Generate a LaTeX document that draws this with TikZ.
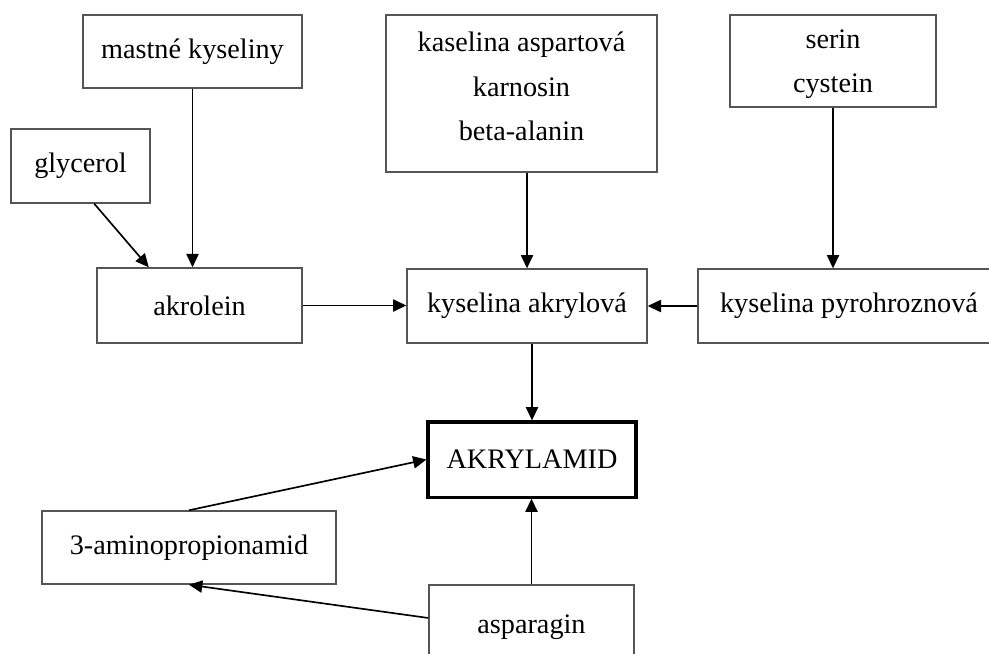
\documentclass[tikz,border=0pt]{standalone}
\usepackage{fontspec}
\setmainfont{Liberation Serif}
\usepackage{tikz}
\usepackage{xcolor}
\usetikzlibrary{arrows.meta, positioning}
\definecolor{colBorder}{RGB}{85,85,85}

\begin{document}
\begin{tikzpicture}[
  x=0.45pt, y=-0.45pt,
  arr/.style={-{Triangle[length=6pt, width=5.5pt]}, line width=0.75pt},
  box/.style={draw=colBorder, line width=0.6pt, fill=white, align=center,
              font=\fontsize{12.7}{20}\selectfont, inner sep=2pt},
  mainbox/.style={box, draw=black, line width=1.4pt},
]
% Frame of the picture
\useasboundingbox (0,0) rectangle (989,653);

% Upper row: sources
\node[box, minimum width=98.6pt, minimum height=32.9pt] (mastne) at (192.5, 51.5) {mastné kyseliny};
\node[box, minimum width=62.6pt, minimum height=33.3pt] (glycerol) at (80.5, 166) {glycerol};
\node[box, minimum width=122pt, minimum height=70.7pt, text depth=6.5pt] (kaselina) at (521.5, 93.5)
  {kaselina aspartová\\karnosin\\beta-alanin};
\node[box, minimum width=92.7pt, minimum height=41.4pt, text depth=0pt] (serin) at (833, 61) {serin\\cystein};

% Middle row
\node[box, minimum width=92.3pt, minimum height=33.8pt] (akrolein) at (199.5, 305.5) {akrolein};
\node[box, minimum width=108pt, minimum height=33.3pt] (akrylova) at (527, 306) {kyselina akrylová};
\node[box, minimum width=135.9pt, minimum height=33.3pt] (pyro) at (849, 306) {kyselina pyrohroznová};

% Lower part
\node[mainbox, minimum width=93.6pt, minimum height=33.8pt] (akrylamid) at (532, 459.5) {AKRYLAMID};
\node[box, minimum width=132.3pt, minimum height=32.9pt] (amino) at (189, 547.5) {3-aminopropionamid};
\node[box, minimum width=92.3pt, minimum height=37.8pt] (asparagin) at (531.5, 627) {asparagin};

% Arrows
\draw[arr] (mastne.south) -- (mastne.south |- akrolein.north);
\draw[arr] (glycerol.-70) -- (akrolein.143);
\draw[arr] (akrolein.east) -- (akrolein.east -| akrylova.west);
\draw[arr] (kaselina.south -| akrylova.north) -- (akrylova.north);
\draw[arr] (serin.south) -- (serin.south |- pyro.north);
\draw[arr] (pyro.west) -- (pyro.west -| akrylova.east);
\draw[arr] (akrylova.south -| akrylamid.north) -- (akrylamid.north);
\draw[arr] (asparagin.north) -- (asparagin.north |- akrylamid.south);
\draw[arr] (amino.north) -- (akrylamid.west);
\draw[arr] (asparagin.175.5) -- (amino.south);

\end{tikzpicture}
\end{document}
